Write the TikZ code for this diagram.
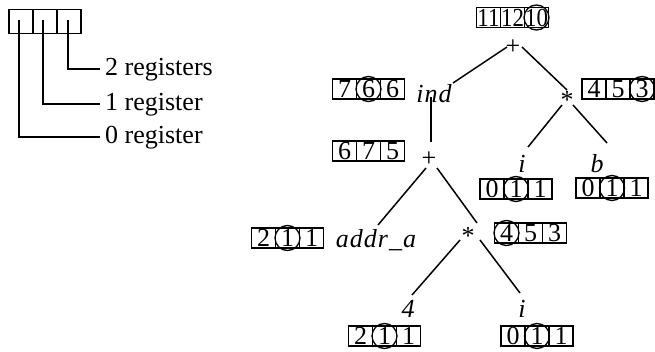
\documentclass[tikz,border=0pt]{standalone}
\usepackage{fontspec}
\usepackage{graphicx}
\setmainfont{Liberation Serif}
\usetikzlibrary{calc}

% three-cell register box: name, centre of middle cell, three entries, circled cell (0 = none)
\newcommand\regbox[6]{%
  \node[cell] (#1-2) at (#2) {#4};
  \node[cell,xshift=-24pt] (#1-1) at (#2) {#3};
  \node[cell,xshift=24pt] (#1-3) at (#2) {#5};
  \ifnum#6>0 \node[ring] at (#1-#6) {};\fi
}
% two-digit entries are set a little narrower to fit a cell
\newcommand\nar[1]{\scalebox{0.88}[1]{#1}}

\begin{document}
\begin{tikzpicture}[x=1pt,y=-1pt,
  every node/.style={font=\fontsize{26}{30}\selectfont},
  cell/.style={draw,line width=1.3pt,minimum width=24pt,minimum height=20pt,inner sep=0pt,anchor=center},
  keycell/.style={draw,line width=1.4pt,minimum width=24pt,minimum height=24pt,inner sep=0pt},
  ring/.style={draw,circle,line width=1.3pt,minimum size=25pt,inner sep=0pt},
  lab/.style={inner sep=0pt,anchor=base},
  var/.style={lab,font=\fontsize{26}{30}\selectfont\itshape\addfontfeatures{LetterSpace=4}},
  keytext/.style={inner xsep=5pt,inner ysep=0pt,anchor=base west},
  edge/.style={line width=1.5pt},
]
\useasboundingbox (0,0) rectangle (655,351);

% legend
\node[keycell] (k1) at (21,21.5) {};
\node[keycell] (k2) at (45,21.5) {};
\node[keycell] (k3) at (69,21.5) {};
\node[keytext] (t2) at (100,75) {2 registers};
\node[keytext] (t1) at (100,110) {1 register};
\node[keytext] (t0) at (100,143) {0 register};
\draw[edge] ($(k3)+(-1,-1.5)$) |- (t2.west);
\draw[edge] ($(k2)+(-2,-1.5)$) |- (t1.west);
\draw[edge] ($(k1)+(-2,-1.5)$) |- (t0.west);

% expression tree
\node[lab] (rp) at (513,54) {+};
\node[var] (ind) at (434,102) {ind};
\node[lab] (rs) at (567,108) {*};
\node[lab] (mp) at (429,166) {+};
\node[var] (addr) at (376,247) {addr\_a};
\node[lab] (ls) at (468,244) {*};
\node[var] (four) at (408,317) {4};
\node[var] (ib) at (522,317) {i};
\node[var] (it) at (522,172) {i};
\node[var] (bb) at (597,172) {b};

\draw[edge] ($(rp.base)+(-6,-7)$) -- ($(ind.base)+(19,-19)$);
\draw[edge] ($(rp.base)+(9,-7)$) -- ($(rs.base)+(0,-18)$);
\draw[edge] ($(ind.base)+(-3,-5)$) -- ($(mp.base)+(2,-24)$);
\draw[edge] ($(mp.base)+(-3,2)$) -- ($(addr.base)+(2,-22)$);
\draw[edge] ($(mp.base)+(8,2)$) -- ($(ls.base)+(9,-21)$);
\draw[edge] ($(ls.base)+(-8,-4)$) -- ($(four.base)+(4,-22)$);
\draw[edge] ($(ls.base)+(12,-4)$) -- ($(ib.base)+(-2,-24)$);
\draw[edge] ($(rs.base)+(-5,-3)$) -- ($(it.base)+(6,-25)$);
\draw[edge] ($(rs.base)+(6,-3)$) -- ($(bb.base)+(10,-29)$);

% register counts
\regbox{r0}{512.5,17.5}{\nar{11}}{\nar{12}}{\nar{10}}{3}
\regbox{r1}{368.5,89}{7}{6}{6}{2}
\regbox{r2}{618,89}{4}{5}{3}{3}
\regbox{r3}{368.5,151}{6}{7}{5}{0}
\regbox{r4}{287.5,238}{2}{1}{1}{2}
\regbox{r5}{530.5,233}{4}{5}{3}{1}
\regbox{r6}{516,189}{0}{1}{1}{2}
\regbox{r7}{612,188}{0}{1}{1}{2}
\regbox{r8}{384.5,336}{2}{1}{1}{2}
\regbox{r9}{537,336}{0}{1}{1}{2}
\end{tikzpicture}
\end{document}
